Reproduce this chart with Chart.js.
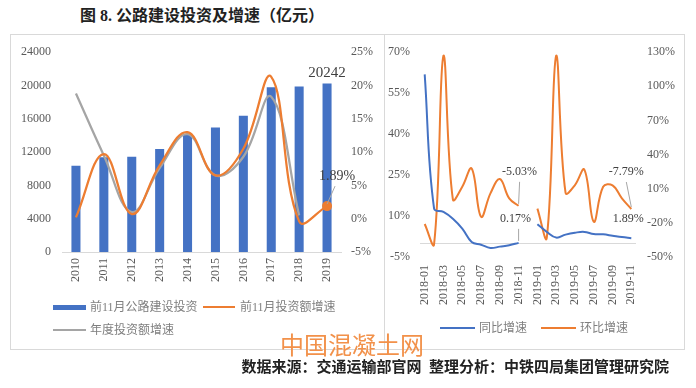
<!DOCTYPE html>
<html>
<head>
<meta charset="utf-8">
<script src="https://cdn.jsdelivr.net/npm/chart.js@4.4.1/dist/chart.umd.min.js"></script>
<style>
  body { margin: 0; background: #fff; width: 696px; height: 388px; position: relative; overflow: hidden;
         font-family: "Liberation Serif", "Noto Sans CJK SC", serif; color: #595959; }
  .abs { position: absolute; }
  #title { left: 80px; top: 6px; font-size: 16px; font-weight: 700; color: #222; font-family: "Liberation Serif", "Noto Sans CJK SC"; white-space: nowrap; line-height: 20px; }
  #panel { left: 10px; top: 34px; width: 673px; height: 314px; border: 1px solid #d9d9d9; }
  #divider { left: 384px; top: 34px; width: 1px; height: 315px; background: #d9d9d9; }
  .lg { font-size: 12px; line-height: 14px; white-space: nowrap; color: #7f7f7f; }
  .sw { position: absolute; }
  #mark { left: 280px; top: 330px; font-size: 24px; color: #f2914a; font-family: "Noto Sans CJK SC"; line-height: 28px; white-space: nowrap; }
  #src { right: 27px; top: 357px; font-size: 15px; font-weight: 700; color: #222; font-family: "Liberation Serif", "Noto Sans CJK SC"; white-space: nowrap; line-height: 20px; }
</style>
</head>
<body>
<div id="title" class="abs">图 8. 公路建设投资及增速（亿元）</div>
<div id="panel" class="abs"></div>
<div id="divider" class="abs"></div>

<canvas id="left" class="abs" width="374" height="258" style="left:10px;top:34px;"></canvas>
<canvas id="right" class="abs" width="300" height="273" style="left:384px;top:34px;"></canvas>

<!-- legends -->
<div class="sw" style="left:53px;top:305px;width:33px;height:5px;background:#4472c4;"></div>
<div class="abs lg" style="left:90px;top:300px;">前11月公路建设投资</div>
<div class="sw" style="left:203px;top:306px;width:32px;height:2px;background:#ed7d31;"></div>
<div class="abs lg" style="left:240px;top:300px;">前11月投资额增速</div>
<div class="sw" style="left:53px;top:329px;width:33px;height:2px;background:#a5a5a5;"></div>
<div class="abs lg" style="left:90px;top:323px;">年度投资额增速</div>

<div class="sw" style="left:440px;top:327px;width:35px;height:2px;background:#4472c4;"></div>
<div class="abs lg" style="left:479px;top:321px;">同比增速</div>
<div class="sw" style="left:541px;top:327px;width:35px;height:2px;background:#ed7d31;"></div>
<div class="abs lg" style="left:580px;top:321px;">环比增速</div>

<div id="mark" class="abs">中国混凝土网</div>
<div id="src" class="abs">数据来源：交通运输部官网&nbsp;&nbsp;整理分析：中铁四局集团管理研究院</div>

<script>
// left chart: 2010-2019 (Jan-Nov)
const years = ["2010", "2011", "2012", "2013", "2014", "2015", "2016", "2017", "2018", "2019"];
const invest = [10360, 11380, 11440, 12380, 14050, 14950, 16360, 19800, 19870, 20242];
const growth11 = [0.2, 9.7, 0.7, 8.0, 13.0, 6.5, 10.5, 21.3, -0.4, 1.89];
const growthYear = [18.8, 9.5, 1.0, 7.6, 12.7, 6.5, 9.3, 18.3, 0.5, null];
const leftTicks = [0, 4000, 8000, 12000, 16000, 20000, 24000];
const leftPctTicks = [-5, 0, 5, 10, 15, 20, 25];

// right chart: monthly
const months = ["2018-01", "2018-02", "2018-03", "2018-04", "2018-05", "2018-06", "2018-07", "2018-08",
  "2018-09", "2018-10", "2018-11", "2018-12", "2019-01", "2019-02", "2019-03", "2019-04", "2019-05",
  "2019-06", "2019-07", "2019-08", "2019-09", "2019-10", "2019-11"];
const yoy = [61.9, 12.7, 11.5, 9.0, 5.4, 0.5, -0.5, -1.7, -1.2, -0.7, 0.17, null,
  7.0, 4.2, 2.1, 3.2, 3.9, 4.2, 3.4, 3.3, 2.8, 2.3, 1.89];
const mom = [-21, -38.7, 127, 0.7, 11.7, 27.8, -14.6, 5.9, 18.5, 1.5, -5.03, null,
  -7.5, -33, 127, 6.4, 13.2, 26.8, -19, 11.7, 13, 1.5, -7.79];
const yoyTicks = [-5, 10, 25, 40, 55, 70];
const momTicks = [-50, -20, 10, 40, 70, 100, 130];

const BLUE = "#4472c4", ORANGE = "#ed7d31", GRAY = "#a5a5a5";
const tickFont = { family: "Liberation Serif", size: 12 };

Chart.defaults.color = "#595959";
Chart.defaults.animation = false;

// labels with leader lines, placed relative to a data point
const callouts = {
  id: "callouts",
  afterDatasetsDraw(chart, args, opts) {
    const ctx = chart.ctx;
    (opts.items || []).forEach(it => {
      const el = chart.getDatasetMeta(it.ds).data[it.i];
      const tx = el.x + it.dx, ty = el.y + it.dy;
      ctx.save();
      if (it.leader) {
        ctx.strokeStyle = "#a6a6a6";
        ctx.lineWidth = 1;
        ctx.beginPath();
        ctx.moveTo(el.x, el.y - 2);
        ctx.lineTo(tx + (it.lx || 0), ty + 10);
        ctx.stroke();
      }
      ctx.font = (it.size || 12) + "px 'Liberation Serif'";
      ctx.fillStyle = "#404040";
      ctx.textAlign = "center";
      ctx.textBaseline = "middle";
      ctx.fillText(it.text, tx, ty);
      ctx.restore();
    });
  }
};

// horizontal axis line at 0 of the left axis
const zeroLine = {
  id: "zeroLine",
  beforeDatasetsDraw(chart) {
    const { ctx, chartArea, scales } = chart;
    const y = scales.y.getPixelForValue(0);
    ctx.save();
    ctx.strokeStyle = "#d9d9d9";
    ctx.lineWidth = 1;
    ctx.beginPath();
    ctx.moveTo(chartArea.left, Math.round(y) + 0.5);
    ctx.lineTo(chartArea.right, Math.round(y) + 0.5);
    ctx.stroke();
    ctx.restore();
  }
};

function fixedTicks(list) {
  return function (scale) { scale.ticks = list.map(v => ({ value: v })); };
}

new Chart(document.getElementById("left"), {
  type: "bar",
  data: {
    labels: years,
    datasets: [
      { type: "line", label: "前11月投资额增速", data: growth11, yAxisID: "y2", order: 0,
        borderColor: ORANGE, backgroundColor: ORANGE, borderWidth: 2.25, tension: 0.4,
        pointRadius: c => c.dataIndex === growth11.length - 1 ? 5 : 0, pointBorderWidth: 0 },
      { type: "line", label: "年度投资额增速", data: growthYear, yAxisID: "y2", order: 1,
        borderColor: GRAY, borderWidth: 2.25, tension: 0.4, pointRadius: 0 },
      { label: "前11月公路建设投资", data: invest, yAxisID: "y", order: 2,
        backgroundColor: BLUE, barPercentage: 0.36, categoryPercentage: 0.9 }
    ]
  },
  options: {
    responsive: false,
    devicePixelRatio: 1,
    layout: { padding: { top: 18, left: 0, right: 0, bottom: 0 } },
    plugins: {
      legend: { display: false },
      tooltip: { enabled: false },
      callouts: { items: [
        { ds: 2, i: 9, text: "20242", dx: 0, dy: -10, size: 15 },
        { ds: 0, i: 9, text: "1.89%", dx: 10, dy: -30, size: 14, leader: true, lx: -2 }
      ] }
    },
    scales: {
      x: {
        grid: { display: false, drawTicks: false },
        border: { color: "#d9d9d9" },
        ticks: { font: tickFont, minRotation: 90, maxRotation: 90, padding: 6, autoSkip: false },
        afterFit: s => { s.height = 40; }
      },
      y: {
        position: "left", min: 0, max: 24000,
        grid: { display: false, drawTicks: false }, border: { display: false },
        ticks: { font: tickFont, padding: 11, callback: v => String(v) },
        afterBuildTicks: fixedTicks(leftTicks),
        afterFit: s => { s.width = 52; }
      },
      y2: {
        position: "right", min: -5, max: 25,
        grid: { display: false, drawTicks: false }, border: { display: false },
        ticks: { font: tickFont, padding: 10, callback: v => v + "%" },
        afterBuildTicks: fixedTicks(leftPctTicks),
        afterFit: s => { s.width = 43; }
      }
    }
  },
  plugins: [callouts]
});

new Chart(document.getElementById("right"), {
  type: "line",
  data: {
    labels: months,
    datasets: [
      { label: "同比增速", data: yoy, yAxisID: "y", borderColor: BLUE, borderWidth: 2,
        tension: 0.4, pointRadius: 0 },
      { label: "环比增速", data: mom, yAxisID: "y2", borderColor: ORANGE, borderWidth: 2,
        tension: 0.4, pointRadius: 0 }
    ]
  },
  options: {
    responsive: false,
    devicePixelRatio: 1,
    layout: { padding: { top: 18, left: 0, right: 0, bottom: 0 } },
    plugins: {
      legend: { display: false },
      tooltip: { enabled: false },
      callouts: { items: [
        { ds: 1, i: 10, text: "-5.03%", dx: 1, dy: -34, leader: true },
        { ds: 0, i: 10, text: "0.17%", dx: -3, dy: -24, leader: true, lx: 3 },
        { ds: 1, i: 22, text: "-7.79%", dx: -5, dy: -37, leader: true },
        { ds: 0, i: 22, text: "1.89%", dx: -3, dy: -19 }
      ] }
    },
    scales: {
      x: {
        offset: true,
        grid: { display: false, drawTicks: false },
        border: { display: false },
        ticks: { font: tickFont, minRotation: 90, maxRotation: 90, padding: 8, autoSkip: false,
          callback: function (v, i) { return i % 2 === 0 ? this.getLabelForValue(v) : ""; } },
        afterFit: s => { s.height = 50; }
      },
      y: {
        position: "left", min: -5, max: 70,
        grid: { display: false, drawTicks: false }, border: { display: false },
        ticks: { font: tickFont, padding: 10, callback: v => v + "%" },
        afterBuildTicks: fixedTicks(yoyTicks),
        afterFit: s => { s.width = 36; }
      },
      y2: {
        position: "right", min: -50, max: 130,
        grid: { display: false, drawTicks: false }, border: { display: false },
        ticks: { font: tickFont, padding: 11, callback: v => v + "%" },
        afterBuildTicks: fixedTicks(momTicks),
        afterFit: s => { s.width = 48; }
      }
    }
  },
  plugins: [zeroLine, callouts]
});
</script>
</body>
</html>
